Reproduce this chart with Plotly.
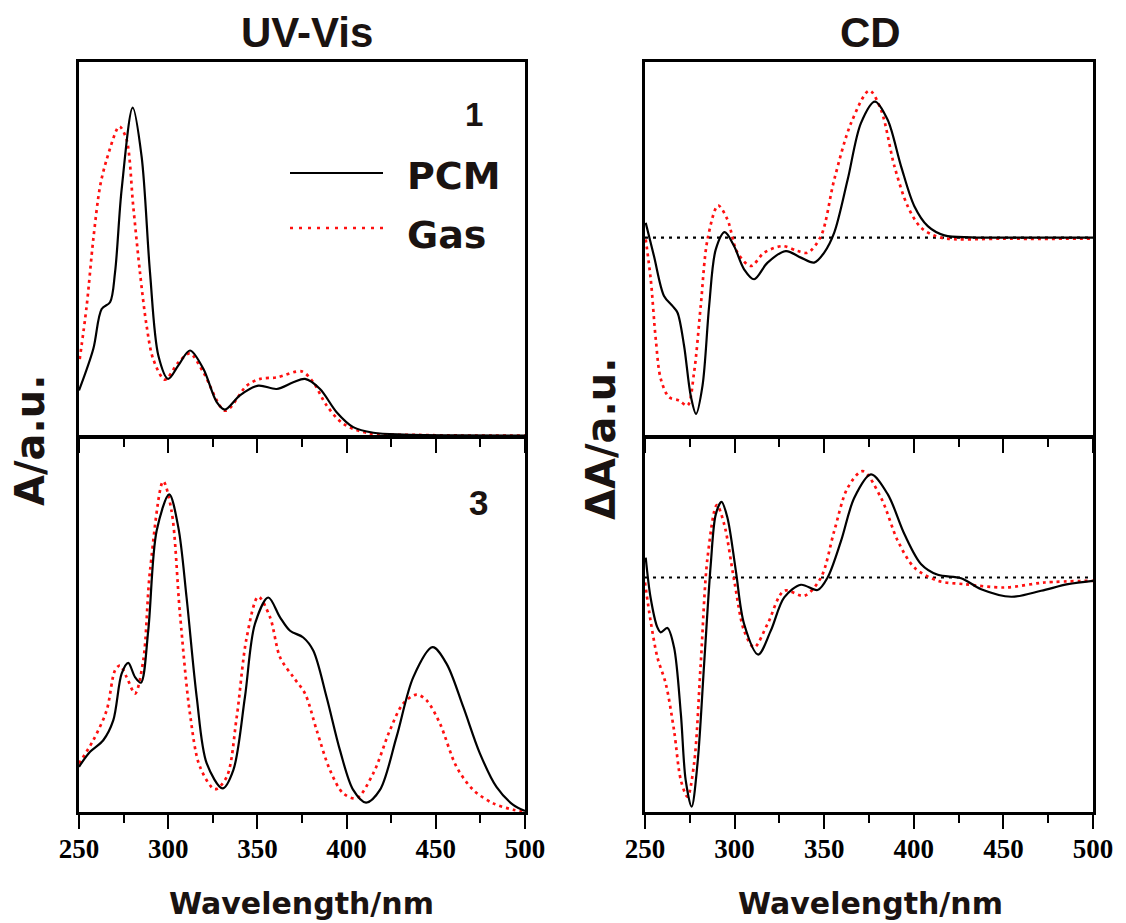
import plotly.graph_objects as go

# ---------------- data ----------------
# UV-Vis, compound 1
uv1_pcm_wl = [250, 258, 262.7, 267.4, 270.2, 273.9, 280.1, 285.1, 289.8, 294.5, 300, 305.7, 312.2, 319.7, 327.2,
              331.8, 340.2, 350.5, 360.8, 370.1, 376.7, 385.1, 394.4, 403.7, 415, 432, 460, 500]
uv1_pcm_a = [0.121, 0.232, 0.339, 0.357, 0.437, 0.659, 0.878, 0.747, 0.437, 0.214, 0.152, 0.188, 0.228, 0.179, 0.09,
             0.070, 0.108, 0.134, 0.125, 0.143, 0.152, 0.125, 0.063, 0.023, 0.008, 0.003, 0.001, 0.0]
uv1_gas_wl = [250.4, 254.3, 258, 261.8, 265.5, 272, 273, 276.7, 280.4, 284.2, 287.9, 291.6, 298.2, 305.7, 312.2,
              319.7, 332, 344, 351.5, 360.8, 374.8, 381.3, 388.8, 398.1, 411, 440, 500]
uv1_gas_a = [0.205, 0.347, 0.525, 0.667, 0.739, 0.826, 0.827, 0.792, 0.614, 0.436, 0.294, 0.205, 0.150, 0.196, 0.22,
             0.17, 0.067, 0.134, 0.152, 0.156, 0.172, 0.143, 0.081, 0.032, 0.008, 0.002, 0.0]

# UV-Vis, compound 3
uv3_pcm_wl = [250, 256.2, 263.6, 269.2, 273.9, 277.6, 281.4, 284.7, 288.8, 293.5, 300.6, 305.7, 310.3, 316, 321.6,
              330.5, 336.5, 343, 348.6, 356.1, 362.7, 368.3, 375.7, 381.3, 388.8, 396.3, 403.7, 410.9, 418.7, 428,
              437.4, 448.2, 456, 465.4, 474.7, 484, 493.4, 500]
uv3_pcm_a = [0.121, 0.161, 0.192, 0.245, 0.370, 0.399, 0.361, 0.346, 0.485, 0.752, 0.850, 0.761, 0.574, 0.307, 0.130,
             0.063, 0.112, 0.307, 0.503, 0.574, 0.521, 0.485, 0.467, 0.432, 0.307, 0.165, 0.059, 0.025, 0.059, 0.201,
             0.361, 0.441, 0.397, 0.281, 0.157, 0.067, 0.019, 0.003]
uv3_gas_wl = [250, 258, 265.5, 270.2, 273, 276.7, 281.4, 286, 289.8, 297.2, 301.9, 306.6, 312.2, 317.8, 326.2, 332.8,
              338.4, 344, 350.5, 357.1, 362.7, 370.1, 376.7, 383.2, 390.7, 398.1, 405.6, 414.9, 424.3, 431.7, 439.2,
              444.8, 452.3, 461.6, 471, 482.2, 493.4, 500]
uv3_gas_a = [0.130, 0.192, 0.272, 0.379, 0.392, 0.361, 0.317, 0.405, 0.645, 0.885, 0.805, 0.530, 0.263, 0.121, 0.061,
             0.094, 0.254, 0.467, 0.576, 0.521, 0.414, 0.361, 0.317, 0.219, 0.112, 0.050, 0.037, 0.103, 0.219, 0.290,
             0.314, 0.299, 0.237, 0.121, 0.059, 0.023, 0.006, 0.0]

# CD, compound 1
cd1_pcm_wl = [250.4, 255, 260.6, 265.3, 268.1, 271.8, 275.5, 278.5, 282.1, 285.8, 289.5, 294.5, 299.7, 305.3, 310.9,
              318.4, 328.6, 337, 344.4, 350, 355.6, 363.1, 370.5, 378.3, 385.4, 392.9, 400.3, 407.8, 417.1, 432,
              460, 500]
cd1_pcm_d = [0.15, -0.184, -0.584, -0.684, -0.75, -1.084, -1.584, -1.767, -1.484, -0.684, -0.117, 0.056, -0.084,
             -0.317, -0.417, -0.25, -0.134, -0.2, -0.25, -0.15, 0.05, 0.583, 1.15, 1.366, 1.183, 0.716, 0.316, 0.116,
             0.023, 0.003, 0.0, 0.0]
cd1_gas_wl = [250.4, 253.2, 256, 258.8, 263.4, 269, 273.7, 277.4, 281.1, 284.9, 290.8, 296, 301.6, 309.1, 316.5,
              326.8, 335.2, 340.8, 348.2, 355.6, 365, 375.2, 381.7, 389.2, 396.6, 404.1, 415.3, 450, 500]
cd1_gas_d = [-0.017, -0.417, -1.017, -1.417, -1.6, -1.634, -1.684, -1.35, -0.684, -0.017, 0.323, 0.183, -0.15,
             -0.284, -0.15, -0.084, -0.134, -0.15, 0.016, 0.583, 1.15, 1.476, 1.283, 0.716, 0.316, 0.1, 0.0, -0.01,
             -0.01]

# CD, compound 3
cd3_pcm_wl = [250.4, 253.1, 256.9, 258.8, 262.5, 266.2, 270, 272.7, 276, 279.3, 283, 286.7, 289.5, 292.7, 296, 300.7,
              305.3, 313.2, 320.2, 327.7, 337, 346.3, 351.9, 359.4, 366.8, 376.1, 385.5, 394.8, 404.1, 413.4, 426.4,
              437.6, 454.4, 471.1, 486, 500]
cd3_pcm_d = [0.2, -0.2, -0.5, -0.55, -0.506, -0.7, -1.366, -2.033, -2.3, -1.866, -0.866, 0.134, 0.634, 0.76, 0.6,
             0.067, -0.466, -0.773, -0.533, -0.2, -0.073, -0.126, 0.0, 0.367, 0.8, 1.034, 0.834, 0.434, 0.134, 0.027,
             -0.007, -0.117, -0.193, -0.133, -0.067, -0.033]
cd3_gas_wl = [250, 253.1, 256.9, 261.6, 266.2, 270, 273.7, 277.4, 281.1, 284.9, 290.1, 294.2, 299.8, 305.3, 310.9,
              318.4, 327.7, 338.9, 348.2, 355.6, 363.1, 371.5, 381.7, 391.1, 400.3, 413.4, 428.2, 450.6, 473, 500]
cd3_gas_d = [-0.05, -0.433, -0.8, -1.066, -1.533, -2.033, -2.2, -1.866, -0.866, 0.2, 0.727, 0.534, -0.033, -0.533,
             -0.7, -0.466, -0.133, -0.183, 0.0, 0.467, 0.9, 1.067, 0.8, 0.367, 0.1, -0.033, -0.067, -0.1, -0.05,
             -0.033]

x_ticks = [250, 300, 350, 400, 450, 500]
series_names = ["PCM", "Gas"]

# ---------------- figure ----------------
# the page body adds an 8 px margin, so coordinates are shifted by 8 px and the figure
# is sized to end exactly at the window edge
OFF = 8
W, H = 1126 - OFF, 923 - OFF
LW = 2.6  # frame line width

def px(x):
    return (x - OFF) / W
def py(y):
    return 1 - (y - OFF) / H

LEFT = [px(79), px(525)]
RIGHT = [px(645), px(1093)]
TOP = [py(437 - LW / 2), py(62)]
BOT = [py(812), py(437 + LW / 2)]

fig = go.Figure()

black_line = dict(color="black", width=2.2, shape="spline", smoothing=0.9)
red_line = dict(color="#ff1010", width=2.7, dash="3px,4px", shape="spline", smoothing=0.9)

def add_pair(xa, ya, wl1, v1, wl2, v2):
    fig.add_trace(go.Scatter(x=wl2, y=v2, mode="lines", line=red_line, xaxis=xa, yaxis=ya,
                             name=series_names[1], showlegend=False))
    fig.add_trace(go.Scatter(x=wl1, y=v1, mode="lines", line=black_line, xaxis=xa, yaxis=ya,
                             name=series_names[0], showlegend=False))

add_pair("x", "y", uv1_pcm_wl, uv1_pcm_a, uv1_gas_wl, uv1_gas_a)
add_pair("x2", "y2", uv3_pcm_wl, uv3_pcm_a, uv3_gas_wl, uv3_gas_a)
add_pair("x3", "y3", cd1_pcm_wl, cd1_pcm_d, cd1_gas_wl, cd1_gas_d)
add_pair("x4", "y4", cd3_pcm_wl, cd3_pcm_d, cd3_gas_wl, cd3_gas_d)

tick_font = dict(family="Liberation Serif", size=27, color="black", weight="bold")

def xaxis(domain, anchor, labels):
    return dict(domain=domain, anchor=anchor, range=[250, 500], tickvals=x_ticks,
                ticks="outside", ticklen=14, tickwidth=2.4, tickcolor="black",
                minor=dict(dtick=25, tick0=250, ticks="outside", ticklen=8, tickwidth=2.4, tickcolor="black"),
                showticklabels=labels, tickfont=tick_font, ticklabelstandoff=-3,
                showline=True, mirror=True, linecolor="black", linewidth=LW,
                showgrid=False, zeroline=False, automargin=False)

def yaxis(domain, anchor, rng):
    return dict(domain=domain, anchor=anchor, range=rng, showticklabels=False, ticks="",
                showline=True, mirror=True, linecolor="black", linewidth=LW,
                showgrid=False, zeroline=False, automargin=False)

fig.update_layout(
    width=W, height=H, margin=dict(l=0, r=0, t=0, b=0, autoexpand=False),
    paper_bgcolor="white", plot_bgcolor="white", showlegend=False,
    xaxis=xaxis(LEFT, "y", False), yaxis=yaxis(TOP, "x", [0, 1]),
    xaxis2=xaxis(LEFT, "y2", True), yaxis2=yaxis(BOT, "x2", [0, 1]),
    xaxis3=xaxis(RIGHT, "y3", False), yaxis3=yaxis(TOP, "x3", [-1.987, 1.763]),
    xaxis4=xaxis(RIGHT, "y4", True), yaxis4=yaxis(BOT, "x4", [-2.353, 1.397]),
)

# zero reference lines in the CD panels
for yr in ["y3", "y4"]:
    xr = "x3" if yr == "y3" else "x4"
    fig.add_shape(type="line", xref=xr + " domain", yref=yr, x0=0, x1=1, y0=0, y1=0,
                  line=dict(color="black", width=2.2, dash="3px,5px"), layer="below")

sans = "Liberation Sans"
wide = "DejaVu Sans"

def ann(text, x, y, size, family, xanchor="center", **kw):
    fig.add_annotation(text=text, x=px(x), y=py(y), xref="paper", yref="paper", showarrow=False,
                       xanchor=xanchor, yanchor="middle",
                       font=dict(family=family, size=size, color="#1a1311", weight="bold"), **kw)

ann("UV-Vis", 307, 32, 42, sans)
ann("CD", 870, 32, 42, sans)
ann("Wavelength/nm", 301, 903, 30, wide)
ann("Wavelength/nm", 870, 903, 30, wide)
ann("A/a.u.", 30, 441, 40, wide, textangle=-90)
ann("\u0394A/a.u.", 601, 439, 40, wide, textangle=-90)
ann("1", 474, 115, 33, sans)
ann("3", 478, 502, 35, sans)
ann("PCM", 405, 176, 38, wide, xanchor="left")
ann("Gas", 405, 235, 38, wide, xanchor="left")

# legend samples
fig.add_shape(type="line", xref="paper", yref="paper", x0=px(290), x1=px(383), y0=py(173), y1=py(173),
              line=dict(color="black", width=2.2))
fig.add_shape(type="line", xref="paper", yref="paper", x0=px(290), x1=px(383), y0=py(228), y1=py(228),
              line=dict(color="#ff1010", width=2.7, dash="3px,6px"))

fig.write_html("out.html")
